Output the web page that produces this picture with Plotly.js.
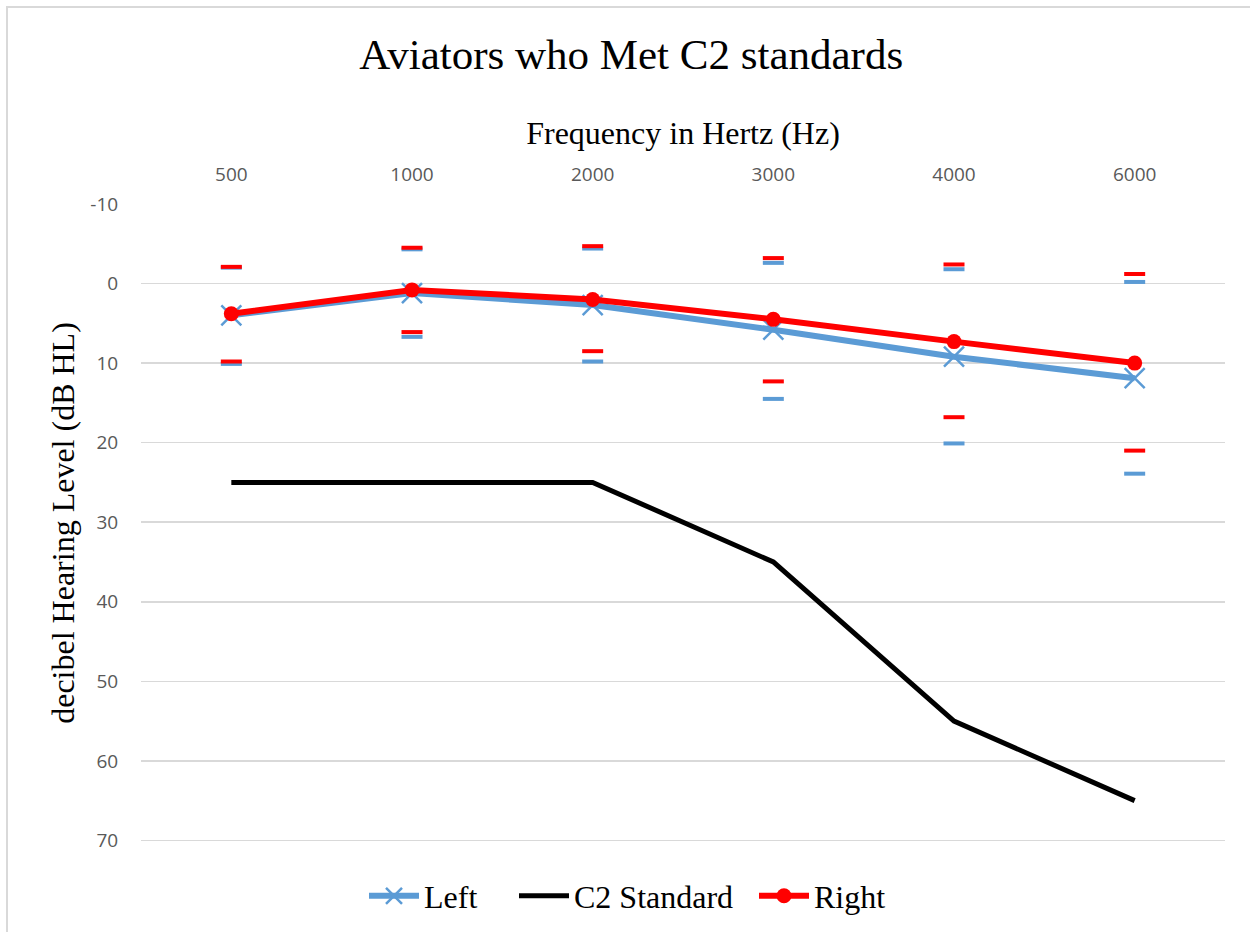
<!DOCTYPE html>
<html>
<head>
<meta charset="utf-8">
<script src="https://cdn.plot.ly/plotly-3.0.1.min.js"></script>
<style>html,body{margin:0;padding:0;background:#fff;}#chart{width:1250px;height:932px;}</style>
</head>
<body>
<div id="chart"></div>
<script>
var frequencies = ['500', '1000', '2000', '3000', '4000', '6000'];
var leftMean = [4.0, 1.2, 2.7, 5.8, 9.2, 11.9];
var rightMean = [3.8, 0.8, 2.0, 4.5, 7.3, 10.0];
var c2Standard = [25, 25, 25, 35, 55, 65];
var leftUpper = [-2.0, -4.3, -4.4, -2.6, -1.8, -0.2];
var leftLower = [10.1, 6.7, 9.8, 14.5, 20.1, 23.9];
var rightUpper = [-2.1, -4.5, -4.7, -3.2, -2.4, -1.2];
var rightLower = [9.8, 6.1, 8.5, 12.3, 16.8, 21.0];
var yTicks = [-10, 0, 10, 20, 30, 40, 50, 60, 70];
var yTickText = ['-10', '0', '10', '20', '30', '40', '50', '60', '70'];

var BLUE = '#5B9BD5', RED = '#FF0000';
var serif = '"Liberation Serif", "Times New Roman", serif';
var sans = '"Open Sans", "Liberation Sans", sans-serif';

function dash(y, color) {
  return {x: frequencies, y: y, type: 'scatter', mode: 'markers', showlegend: false, hoverinfo: 'y',
    marker: {symbol: 'line-ew', size: 15, line: {width: 4, color: color}}};
}

var traces = [
  dash(leftUpper, BLUE), dash(leftLower, BLUE),
  dash(rightUpper, RED), dash(rightLower, RED),
  {x: frequencies, y: leftMean, name: 'Left', legend: 'legend', type: 'scatter', mode: 'lines+markers',
   line: {color: BLUE, width: 6},
   marker: {symbol: 'x-thin', size: 20, color: BLUE, line: {width: 2.5, color: BLUE}}},
  {x: frequencies, y: c2Standard, name: 'C2 Standard', legend: 'legend2', type: 'scatter', mode: 'lines',
   line: {color: '#000000', width: 5}},
  {x: frequencies, y: rightMean, name: 'Right', legend: 'legend3', type: 'scatter', mode: 'lines+markers',
   line: {color: RED, width: 6},
   marker: {symbol: 'circle', size: 15, color: RED}}
];

var L = 141, R = 25, T = 204, B = 90, PW = 1250 - L - R, PH = 932 - T - B;
function px(x) { return (x - L) / PW; }
function py(y) { return (932 - B - y) / PH; }

function legendAt(xPix) {
  return {orientation: 'h', x: xPix / 1250, xref: 'container', xanchor: 'left',
          y: 1 - 896 / 932, yref: 'container', yanchor: 'middle',
          itemwidth: 50, font: {family: serif, size: 32, color: '#000'}, bgcolor: 'rgba(0,0,0,0)'};
}

var layout = {
  width: 1250, height: 932,
  margin: {l: L, r: R, t: T, b: B, pad: 0, autoexpand: false},
  paper_bgcolor: '#ffffff', plot_bgcolor: '#ffffff',
  title: {text: 'Aviators who Met C2 standards', font: {family: serif, size: 43, color: '#000'},
          x: 0.505, xanchor: 'center', y: 1 - 54 / 932, yanchor: 'middle'},
  xaxis: {type: 'category', side: 'top', range: [-0.5, 5.5], showgrid: false, zeroline: false,
          showline: false, ticks: 'outside', ticklen: 14, tickcolor: 'rgba(0,0,0,0)',
          tickfont: {family: sans, size: 19, color: '#595959'},
          title: {text: 'Frequency in Hertz (Hz)', font: {family: serif, size: 32, color: '#000'}, standoff: 7}},
  yaxis: {range: [70.2, -10], tickvals: yTicks, ticktext: yTickText, showgrid: true, gridcolor: '#d9d9d9', gridwidth: 1.5,
          zeroline: false, showline: false, ticks: 'outside', ticklen: 18, tickcolor: 'rgba(0,0,0,0)',
          tickfont: {family: sans, size: 19, color: '#595959'},
          title: {text: 'decibel Hearing Level (dB HL)', font: {family: serif, size: 32, color: '#000'}, standoff: 6}},
  legend: legendAt(364),
  legend2: legendAt(514),
  legend3: legendAt(754),
  shapes: [{type: 'path', xref: 'paper', yref: 'paper', layer: 'below',
            path: 'M' + px(7) + ',' + py(990) + ' L' + px(7) + ',' + py(7) + ' L' + px(1320) + ',' + py(7),
            line: {color: '#d9d9d9', width: 2}}],
  showlegend: true
};

Plotly.newPlot('chart', traces, layout, {displayModeBar: false, staticPlot: true});
</script>
</body>
</html>
